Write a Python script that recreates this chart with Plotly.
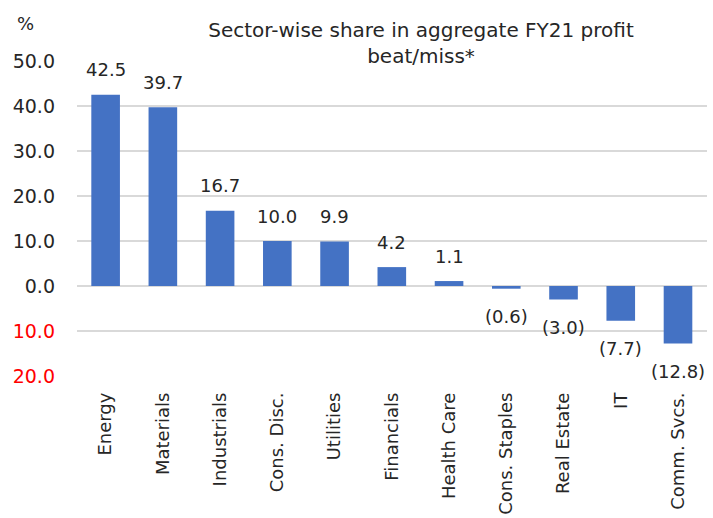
import plotly.graph_objects as go

categories = ["Energy", "Materials", "Industrials", "Cons. Disc.", "Utilities", "Financials",
              "Health Care", "Cons. Staples", "Real Estate", "IT", "Comm. Svcs."]
values = [42.5, 39.7, 16.7, 10.0, 9.9, 4.2, 1.1, -0.6, -3.0, -7.7, -12.8]
tick_vals = [50, 40, 30, 20, 10, 0, -10, -20]
tick_text = ["50.0", "40.0", "30.0", "20.0", "10.0", "0.0",
             "<span style='color:#FF0000'>10.0</span>", "<span style='color:#FF0000'>20.0</span>"]

FONT = "'DejaVu Sans', sans-serif"
TXT = "#262626"

def fmt(v):
    return f"({abs(v):.1f})" if v < 0 else f"{v:.1f}"

fig = go.Figure()
fig.add_trace(go.Bar(x=categories, y=values, marker_color="#4472C4", marker_line_width=0))

for c, v in zip(categories, values):
    fig.add_annotation(x=c, y=v, text=fmt(v), showarrow=False,
                       yshift=25 if v >= 0 else -28, yanchor="middle",
                       font=dict(family=FONT, size=18, color=TXT))

fig.add_annotation(xref="paper", yref="paper", x=(25 - 77) / 630, y=1 + 37 / 315,
                   xanchor="center", yanchor="middle", text="%", showarrow=False,
                   font=dict(family=FONT, size=18, color=TXT))

fig.update_layout(
    width=713, height=518,
    margin=dict(l=77, r=6, t=61, b=142),
    paper_bgcolor="white", plot_bgcolor="white",
    bargap=0.5,
    showlegend=False,
    font=dict(family=FONT, size=17, color=TXT),
    title=dict(text="Sector-wise share in aggregate FY21 profit<br>beat/miss*",
               x=421 / 713, xanchor="center", y=1 - 37 / 518, yanchor="middle",
               font=dict(family=FONT, size=20, color=TXT)),
    xaxis=dict(tickangle=-90, tickfont=dict(size=18, color=TXT), showgrid=False,
               showline=False, ticks="", ticklabelstandoff=12, automargin=False),
    yaxis=dict(range=[-20, 50], tickvals=tick_vals, ticktext=tick_text, showgrid=True,
               gridcolor="#D9D9D9", gridwidth=1.5, zeroline=True, zerolinecolor="#D9D9D9",
               zerolinewidth=1.5, ticks="", ticklabelstandoff=21, automargin=False,
               tickfont=dict(size=19, color=TXT)),
)

fig.write_html("out.html", config={"displayModeBar": False},
               post_script="document.body.style.margin='0';")
